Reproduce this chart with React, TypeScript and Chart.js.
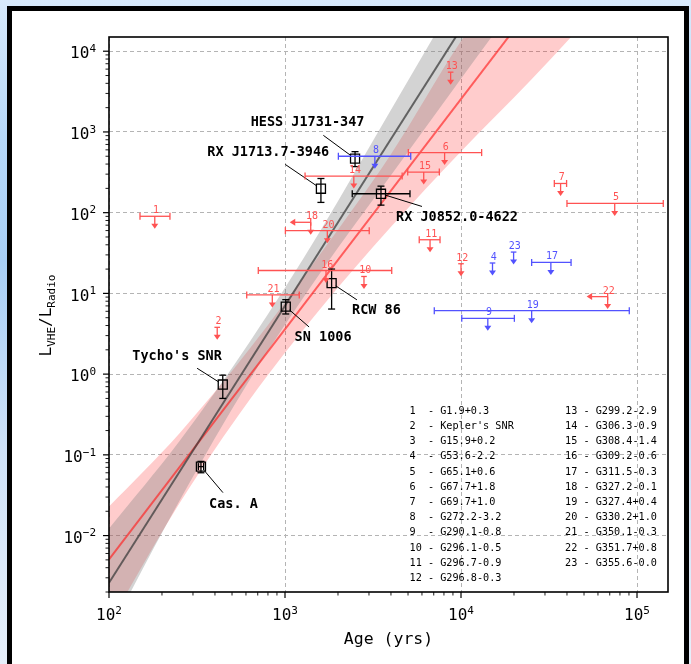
import React, { useEffect, useRef } from 'react';
import { Chart, registerables } from 'chart.js';

Chart.register(...registerables);

const FONT = '"DejaVu Sans Mono", "Liberation Mono", monospace';

// Axis limits and decade ticks
const ageLimits = [100, 150000];
const ratioLimits = [0.002, 15000];
const ageDecades = [100, 1000, 10000, 100000];
const ratioDecades = [0.01, 0.1, 1, 10, 100, 1000, 10000];

// Detected remnants (age in yr, L_VHE / L_Radio)
const snrNames = ['Cas. A', "Tycho's SNR", 'SN 1006', 'RCW 86', 'RX J1713.7-3946', 'HESS J1731-347', 'RX J0852.0-4622'];
const snrAge = [333, 443, 1010, 1840, 1600, 2500, 3510];
const snrAgeLow = [322, null, null, null, null, null, 2410];
const snrAgeHigh = [345, null, null, null, null, null, 5130];
const snrRatio = [0.0715, 0.743, 6.85, 13.4, 198, 467, 171.5];
const snrRatioLow = [0.06, 0.5, 5.56, 6.4, 134, 372, 124];
const snrRatioHigh = [0.083, 0.97, 8.37, 20, 265, 570, 213];

// Name tags: centre of the text and end of the leader line, relative to the marker (px)
const tagDx = [32.5, -45.7, 37.3, 44.8, -52.7, -47.5, 76];
const tagDy = [38, -28.3, 31.3, 27.7, -36.6, -36.6, 23.7];
const leaderDx = [22, -25.7, 23.3, 25.3, -35.7, -31.7, 41];
const leaderDy = [26, -16.3, 20.3, 16.7, -24.3, -23.3, 12.7];

// Upper limits on L_VHE / L_Radio for the catalogue remnants
const ulId = [1, 2, 4, 5, 6, 7, 8, 9, 10, 11, 12, 13, 14, 15, 16, 17, 18, 19, 20, 21, 22, 23];
const ulAge = [182, 412, 15100, 74700, 8070, 36800, 3240, 14200, 2810, 6670, 10000, 8730, 2460, 6140, 1710, 32400, 1400, 25200, 1740, 847, 68100, 19900];
const ulRatio = [90.2, 3.8, 23.8, 130, 555, 230, 500, 4.91, 16.2, 46.2, 23.3, 5500, 284, 318, 19.2, 24.2, 76, 6.11, 59.9, 9.57, 9.12, 32.5];
const ulAgeLow = [150, null, null, 40000, 5020, 33900, 2010, 10100, null, 5790, null, null, 1300, 4980, 705, 25200, null, 7050, 1005, 606, null, null];
const ulAgeHigh = [222, null, null, 141000, 13100, 39800, 5180, 20100, null, 7600, null, null, 4630, 7530, 4040, 42200, null, 90400, 3010, 1205, null, null];
const blueIds = [4, 8, 9, 17, 19, 23];
const ageLimitIds = [18, 22];

// Catalogue key
const catalogIds = [1, 2, 3, 4, 5, 6, 7, 8, 9, 10, 11, 12, 13, 14, 15, 16, 17, 18, 19, 20, 21, 22, 23];
const catalogNames = [
  'G1.9+0.3', "Kepler's SNR", 'G15.9+0.2', 'G53.6-2.2', 'G65.1+0.6', 'G67.7+1.8', 'G69.7+1.0',
  'G272.2-3.2', 'G290.1-0.8', 'G296.1-0.5', 'G296.7-0.9', 'G296.8-0.3', 'G299.2-2.9', 'G306.3-0.9',
  'G308.4-1.4', 'G309.2-0.6', 'G311.5-0.3', 'G327.2-0.1', 'G327.4+0.4', 'G330.2+1.0', 'G350.1-0.3',
  'G351.7+0.8', 'G355.6-0.0',
];

// Power-law fits and their uncertainty bands
const fitAge = [100, 30000];
const grayFit = [0.0026, 824000];
const redFit = [0.00508, 58600];
const bandAge = [100, 251, 631, 1585, 3981, 10000, 25119, 63096];
const grayBandHigh = [0.0122, 0.147, 2.52, 59.3, 1845, 57400, 1.79e6, 5.56e7];
const grayBandLow = [0.000624, 0.0268, 0.853, 17.9, 286, 4560, 71100, 1.19e6];
const redBandHigh = [0.0229, 0.1845, 2.07, 30.7, 522, 13400, 203000, 3.88e6];
const redBandLow = [0.000805, 0.0249, 0.486, 6.41, 65.8, 573, 4450, 38800];

const RED = '#ff5252';
const BLUE = '#5252ff';

const pts = (xs: number[], ys: number[]) => xs.map((x, i) => ({ x, y: ys[i] }));

function line(ctx: CanvasRenderingContext2D, x0: number, y0: number, x1: number, y1: number) {
  ctx.beginPath();
  ctx.moveTo(x0, y0);
  ctx.lineTo(x1, y1);
  ctx.stroke();
}

function tri(ctx: CanvasRenderingContext2D, a: number[], b: number[], c: number[]) {
  ctx.beginPath();
  ctx.moveTo(a[0], a[1]);
  ctx.lineTo(b[0], b[1]);
  ctx.lineTo(c[0], c[1]);
  ctx.closePath();
  ctx.fill();
}

function powerLabel(ctx: CanvasRenderingContext2D, value: number, x: number, baseY: number, align: string) {
  const exp = Math.round(Math.log10(value));
  const base = '10';
  const sup = exp < 0 ? '\u2212' + Math.abs(exp) : String(exp);
  ctx.font = `16px ${FONT}`;
  const wb = ctx.measureText(base).width;
  ctx.font = `11px ${FONT}`;
  const ws = ctx.measureText(sup).width;
  const total = wb + ws;
  const left = align === 'center' ? x - total / 2 : x - total;
  ctx.textAlign = 'left';
  ctx.textBaseline = 'alphabetic';
  ctx.font = `16px ${FONT}`;
  ctx.fillText(base, left, baseY);
  ctx.font = `11px ${FONT}`;
  ctx.fillText(sup, left + wb, baseY - 6.5);
}

const overlay = {
  id: 'snrOverlay',
  afterDatasetsDraw(chart: any) {
    const ctx: CanvasRenderingContext2D = chart.ctx;
    const xs = chart.scales.x;
    const ys = chart.scales.y;
    const X = (v: number) => xs.getPixelForValue(v);
    const Y = (v: number) => ys.getPixelForValue(v);
    const a = chart.chartArea;

    ctx.save();
    ctx.beginPath();
    ctx.rect(a.left, a.top, a.right - a.left, a.bottom - a.top);
    ctx.clip();
    ctx.lineCap = 'butt';

    // error bars of the detected remnants
    ctx.strokeStyle = '#000';
    ctx.lineWidth = 1.3;
    for (let i = 0; i < snrAge.length; i++) {
      const x = X(snrAge[i]);
      const y0 = Y(snrRatioLow[i]);
      const y1 = Y(snrRatioHigh[i]);
      line(ctx, x, y0, x, y1);
      line(ctx, x - 3.5, y0, x + 3.5, y0);
      line(ctx, x - 3.5, y1, x + 3.5, y1);
      const lo = snrAgeLow[i];
      const hi = snrAgeHigh[i];
      if (lo != null && hi != null) {
        const y = Y(snrRatio[i]);
        const x0 = X(lo);
        const x1 = X(hi);
        line(ctx, x0, y, x1, y);
        line(ctx, x0, y - 3.5, x0, y + 3.5);
        line(ctx, x1, y - 3.5, x1, y + 3.5);
      }
    }

    // leader lines and name tags
    ctx.lineWidth = 1;
    for (let i = 0; i < snrAge.length; i++) {
      const x = X(snrAge[i]);
      const y = Y(snrRatio[i]);
      const ex = x + leaderDx[i];
      const ey = y + leaderDy[i];
      const d = Math.hypot(leaderDx[i], leaderDy[i]);
      line(ctx, x + (leaderDx[i] / d) * 5, y + (leaderDy[i] / d) * 5, ex, ey);
      ctx.fillStyle = '#000';
      ctx.font = `bold 13.5px ${FONT}`;
      ctx.textAlign = 'center';
      ctx.textBaseline = 'middle';
      ctx.fillText(snrNames[i], x + tagDx[i], y + tagDy[i]);
    }

    // upper limits
    for (let i = 0; i < ulId.length; i++) {
      const col = blueIds.includes(ulId[i]) ? BLUE : RED;
      ctx.strokeStyle = col;
      ctx.fillStyle = col;
      ctx.lineWidth = 1.3;
      const x = X(ulAge[i]);
      const y = Y(ulRatio[i]);
      const lo = ulAgeLow[i];
      const hi = ulAgeHigh[i];
      if (lo != null && hi != null) {
        const x0 = X(lo);
        const x1 = X(hi);
        line(ctx, x0, y, x1, y);
        line(ctx, x0, y - 3.5, x0, y + 3.5);
        line(ctx, x1, y - 3.5, x1, y + 3.5);
      } else if (ageLimitIds.includes(ulId[i])) {
        line(ctx, x - 16, y, x, y);
        line(ctx, x, y - 3.5, x, y + 3.5);
        tri(ctx, [x - 21, y], [x - 15.5, y - 3.5], [x - 15.5, y + 3.5]);
      } else {
        line(ctx, x - 2.8, y, x + 2.8, y);
      }
      line(ctx, x, y, x, y + 8);
      tri(ctx, [x, y + 12.5], [x - 3.5, y + 7.5], [x + 3.5, y + 7.5]);
      ctx.font = `10px ${FONT}`;
      ctx.textAlign = 'center';
      ctx.textBaseline = 'alphabetic';
      ctx.fillText(String(ulId[i]), x + 1.2, y - 3);
    }

    // catalogue key
    ctx.fillStyle = '#000';
    ctx.font = `10.2px ${FONT}`;
    ctx.textAlign = 'left';
    ctx.textBaseline = 'alphabetic';
    for (let i = 0; i < catalogIds.length; i++) {
      const col = i < 12 ? 0 : 1;
      const row = i < 12 ? i : i - 12;
      const text = `${String(catalogIds[i]).padEnd(2)} - ${catalogNames[i]}`;
      ctx.fillText(text, col === 0 ? 409.5 : 565, 413.7 + row * 15.2);
    }
    ctx.restore();

    // axes frame
    ctx.save();
    ctx.strokeStyle = '#000';
    ctx.lineWidth = 1.6;
    ctx.strokeRect(a.left, a.top, a.right - a.left, a.bottom - a.top);

    // tick marks
    ctx.lineWidth = 1.2;
    for (const v of ageDecades) {
      const px = X(v);
      line(ctx, px, a.bottom, px, a.bottom + 6);
      for (let m = 2; m <= 9; m++) {
        const mv = v * m;
        if (mv > ageLimits[1]) break;
        const mx = X(mv);
        ctx.lineWidth = 0.9;
        line(ctx, mx, a.bottom, mx, a.bottom + 3.5);
        ctx.lineWidth = 1.2;
      }
    }
    for (const v of [0.001, ...ratioDecades]) {
      if (v >= ratioLimits[0]) {
        const py = Y(v);
        line(ctx, a.left - 6, py, a.left, py);
      }
      for (let m = 2; m <= 9; m++) {
        const mv = v * m;
        if (mv < ratioLimits[0] || mv > ratioLimits[1]) continue;
        const my = Y(mv);
        ctx.lineWidth = 0.9;
        line(ctx, a.left - 3.5, my, a.left, my);
        ctx.lineWidth = 1.2;
      }
    }

    // tick labels
    ctx.fillStyle = '#000';
    for (const v of ageDecades) powerLabel(ctx, v, X(v), 620, 'center');
    for (const v of ratioDecades) powerLabel(ctx, v, 96, Y(v) + 7.2, 'right');

    // axis titles
    ctx.font = `16.5px ${FONT}`;
    ctx.textAlign = 'center';
    ctx.textBaseline = 'alphabetic';
    ctx.fillText('Age (yrs)', (a.left + a.right) / 2, 644);

    ctx.translate(51, (a.top + a.bottom) / 2 + 1);
    ctx.rotate(-Math.PI / 2);
    const parts: [string, number, number][] = [
      ['L', 16, 0],
      ['VHE', 11, 4],
      ['/L', 16, 0],
      ['Radio', 11, 4],
    ];
    let total = 0;
    for (const [t, s] of parts) {
      ctx.font = `${s}px ${FONT}`;
      total += ctx.measureText(t).width;
    }
    let cx = -total / 2;
    ctx.textAlign = 'left';
    for (const [t, s, dy] of parts) {
      ctx.font = `${s}px ${FONT}`;
      ctx.fillText(t, cx, dy);
      cx += ctx.measureText(t).width;
    }
    ctx.restore();
  },
};

export default function App() {
  const ref = useRef<HTMLCanvasElement>(null);

  useEffect(() => {
    const canvas = ref.current;
    if (!canvas) return;
    const bandLine = {
      type: 'line',
      borderWidth: 0,
      borderColor: 'rgba(0,0,0,0)',
      pointRadius: 0,
      cubicInterpolationMode: 'monotone',
    };
    const chart = new Chart(canvas, {
      type: 'scatter',
      data: {
        datasets: [
          {
            type: 'scatter',
            data: pts(snrAge, snrRatio),
            pointStyle: 'rect',
            pointRadius: 6.4,
            pointBorderWidth: 1.3,
            pointBorderColor: '#000',
            pointBackgroundColor: 'rgba(0,0,0,0)',
            showLine: false,
          },
          {
            type: 'line',
            data: pts(fitAge, grayFit),
            borderColor: 'rgba(60,60,60,0.75)',
            borderWidth: 2,
            pointRadius: 0,
            fill: false,
          },
          {
            type: 'line',
            data: pts(fitAge, redFit),
            borderColor: 'rgba(255,30,30,0.65)',
            borderWidth: 2,
            pointRadius: 0,
            fill: false,
          },
          { ...bandLine, data: pts(bandAge, grayBandLow), fill: false },
          { ...bandLine, data: pts(bandAge, grayBandHigh), fill: '-1', backgroundColor: 'rgba(128,128,128,0.35)' },
          { ...bandLine, data: pts(bandAge, redBandLow), fill: false },
          { ...bandLine, data: pts(bandAge, redBandHigh), fill: '-1', backgroundColor: 'rgba(255,0,0,0.2)' },
        ] as any,
      },
      options: {
        animation: false,
        responsive: false,
        devicePixelRatio: 1,
        events: [],
        layout: { padding: { top: 37, right: 23, left: 0, bottom: 0 } },
        plugins: { legend: { display: false }, tooltip: { enabled: false } },
        scales: {
          x: {
            type: 'logarithmic',
            min: ageLimits[0],
            max: ageLimits[1],
            afterBuildTicks: (s: any) => {
              s.ticks = ageDecades.map((value) => ({ value }));
            },
            afterFit: (s: any) => {
              s.height = 72;
            },
            ticks: { display: false },
            grid: { color: '#b4b4b4', lineWidth: 1, drawTicks: false },
            border: { display: false, dash: [4, 3] },
          },
          y: {
            type: 'logarithmic',
            min: ratioLimits[0],
            max: ratioLimits[1],
            afterBuildTicks: (s: any) => {
              s.ticks = ratioDecades.map((value) => ({ value }));
            },
            afterFit: (s: any) => {
              s.width = 109;
            },
            ticks: { display: false },
            grid: { color: '#b4b4b4', lineWidth: 1, drawTicks: false },
            border: { display: false, dash: [4, 3] },
          },
        },
      } as any,
      plugins: [overlay],
    });
    return () => chart.destroy();
  }, []);

  return (
    <div
      style={{
        position: 'absolute',
        left: 0,
        top: 0,
        width: 691,
        height: 664,
        overflow: 'hidden',
        background: 'linear-gradient(180deg, #d8eafc 0px, #b6d8f9 140px, #a8cff6 260px, #cfe2f8 450px, #e6effa 664px)',
      }}
    >
      <div
        style={{
          position: 'absolute',
          left: 7,
          top: 6,
          width: 682,
          height: 700,
          boxSizing: 'border-box',
          border: '5px solid #000',
          background: '#fff',
        }}
      />
      <canvas ref={ref} width={691} height={664} style={{ position: 'absolute', left: 0, top: 0 }} />
    </div>
  );
}
